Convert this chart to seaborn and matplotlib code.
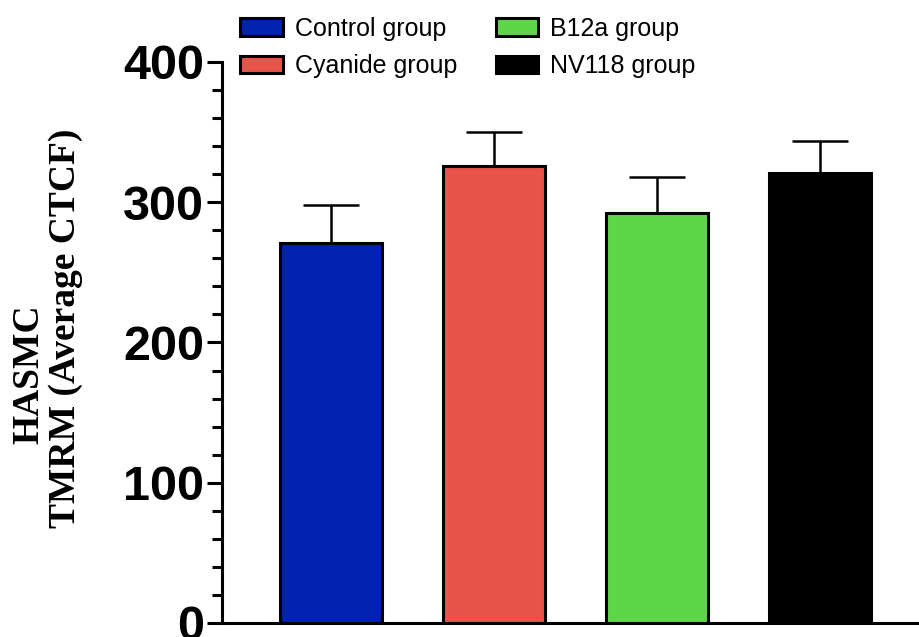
import numpy as np
import pandas as pd
import seaborn as sns
import matplotlib.pyplot as plt
from matplotlib.ticker import MultipleLocator

# values
groups = ['Control group', 'Cyanide group', 'B12a group', 'NV118 group']
means = [271, 326, 292, 321]
sems = [27, 24, 26, 23]
colors = ['#0022b0', '#e8534a', '#5fd64a', '#000000']

df = pd.DataFrame({'group': groups, 'ctcf': means})

sns.set_style('ticks')
plt.rcParams['font.family'] = ['Liberation Sans', 'DejaVu Sans']
plt.rcParams['text.color'] = 'black'
plt.rcParams['ytick.color'] = 'black'
plt.rcParams['axes.edgecolor'] = 'black'

fig = plt.figure(figsize=(9.2, 6.37), dpi=100)
ax = fig.add_axes([0.2413, 0.022, 0.7685, 0.8807])

sns.barplot(data=df, x='group', y='ctcf', hue='group', palette=colors,
            saturation=1, width=0.625, edgecolor='black', linewidth=2.2,
            legend=True, ax=ax)

pos = np.arange(len(groups))
ax.errorbar(pos, means, yerr=[np.zeros(len(sems)), sems], fmt='none',
            ecolor='black', elinewidth=1.8, capsize=20.5, capthick=1.8, zorder=0)

ax.set_xlim(-0.67, 3.67)
ax.set_ylim(0, 400)
ax.yaxis.set_major_locator(MultipleLocator(100))
ax.yaxis.set_minor_locator(MultipleLocator(20))
ax.tick_params(axis='y', which='major', length=11, width=2.2, pad=2,
               labelsize=35, colors='black')
ax.tick_params(axis='y', which='minor', length=7, width=2.2, colors='black')
ax.tick_params(axis='x', bottom=False, labelbottom=False)
for lab in ax.get_yticklabels():
    lab.set_fontweight('bold')
ax.set_xlabel('')
ax.set_ylabel('')
sns.despine(ax=ax)
ax.spines['left'].set_linewidth(2.2)
ax.spines['bottom'].set_linewidth(2.2)

serif = ['Liberation Serif', 'DejaVu Serif']
fig.text(0.031, 0.413, 'HASMC', rotation=90, ha='center', va='center',
         fontsize=27, fontweight='bold', family=serif)
fig.text(0.0707, 0.484, 'TMRM (Average CTCF)', rotation=90, ha='center',
         va='center', fontsize=27, fontweight='bold', family=serif)

handles, labels = ax.get_legend_handles_labels()
ax.legend_.remove()
leg = fig.legend(handles, labels, ncol=2, frameon=False, fontsize=18,
                 loc='upper left', bbox_to_anchor=(0.261, 0.974),
                 borderpad=0, borderaxespad=0, handlelength=1.7,
                 handleheight=0.72, handletextpad=0.48, columnspacing=1.55,
                 labelspacing=0.55)
for h in leg.legend_handles:
    h.set_edgecolor('black')
    h.set_linewidth(2.2)

fig.savefig('out.png', dpi=100)
